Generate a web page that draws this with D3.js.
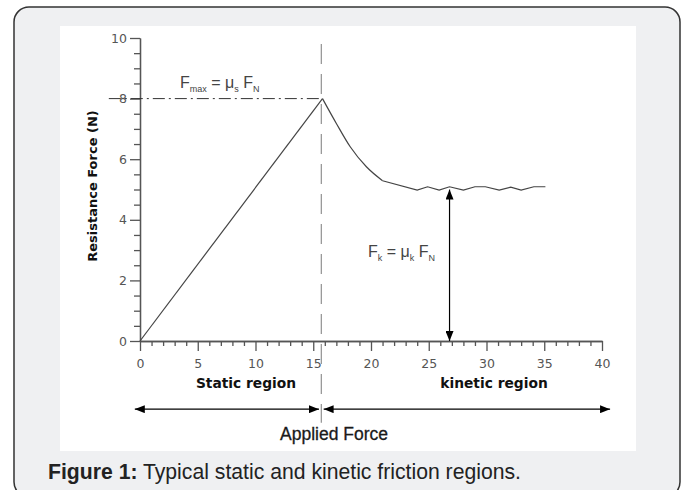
<!DOCTYPE html>
<meta charset="utf-8">
<style>
  body { margin: 0; background: #fff; }
  svg { display: block; }
</style>
<div id="chart"></div>
<script src="https://d3js.org/d3.v7.min.js"></script>
<script>
// data
var staticX = [0, 15.8];
var staticY = [0, 8];
var decayX = [15.8, 17.0, 18.2, 19.6, 21.0];
var decayY = [8, 7.18, 6.41, 5.75, 5.29];
var kineticX = [21.0, 24.0, 24.9, 25.9, 26.8, 28.0, 29.0, 29.9, 31.1, 32.1, 33.0, 34.1, 35.1];
var kineticY = [5.29, 4.98, 5.09, 4.98, 5.09, 4.98, 5.09, 5.09, 4.98, 5.08, 4.98, 5.09, 5.09];
var xMajor = [0, 5, 10, 15, 20, 25, 30, 35, 40];
var yMajor = [0, 2, 4, 6, 8, 10];
var fMax = 8, transitionX = 15.7, kineticArrowX = 26.8, kineticLevel = 5.0;

var W = 684, H = 490;
var svg = d3.select("#chart").append("svg").attr("width", W).attr("height", H);

// card + white panel
svg.append("rect").attr("x", 14).attr("y", 7).attr("width", 666).attr("height", 490)
  .attr("rx", 15).attr("fill", "#eff0f2").attr("stroke", "#333").attr("stroke-width", 1.5);
svg.append("rect").attr("x", 60).attr("y", 26).attr("width", 576).attr("height", 425).attr("fill", "#fff");

var defs = svg.append("defs");
defs.append("marker").attr("id", "head").attr("viewBox", "0 0 10 8")
  .attr("refX", 10).attr("refY", 4).attr("markerWidth", 10).attr("markerHeight", 8)
  .attr("markerUnits", "userSpaceOnUse").attr("orient", "auto-start-reverse")
  .append("path").attr("d", "M0,0L10,4L0,8Z").attr("fill", "#000");

var x = d3.scaleLinear().domain([0, 40]).range([140, 602]);
var y = d3.scaleLinear().domain([0, 10]).range([341, 38]);

var axisColor = "#555";
function styleAxis(g) {
  g.select(".domain").attr("stroke", axisColor).attr("stroke-width", 1.3);
  g.selectAll(".tick line").attr("stroke", axisColor).attr("stroke-width", 1.3);
  g.selectAll(".tick text").attr("fill", "#555").attr("font-family", "DejaVu Sans").attr("font-size", 12.5);
}

var xMinor = d3.range(0, 41).filter(function(d) { return d % 5 !== 0; });
var yMinor = d3.range(0, 10.01, 0.5).filter(function(d) { return d % 2 !== 0; });

svg.append("g").attr("transform", "translate(0," + y(0) + ")")
  .call(d3.axisBottom(x).tickValues(xMinor).tickSize(5).tickSizeOuter(0).tickFormat(""))
  .call(styleAxis);
svg.append("g").attr("transform", "translate(0," + y(0) + ")")
  .call(d3.axisBottom(x).tickValues(xMajor).tickSize(10).tickSizeOuter(0).tickPadding(8))
  .call(styleAxis);
svg.append("g").attr("transform", "translate(" + x(0) + ",0)")
  .call(d3.axisLeft(y).tickValues(yMinor).tickSize(6).tickSizeOuter(0).tickFormat(""))
  .call(styleAxis);
svg.append("g").attr("transform", "translate(" + x(0) + ",0)")
  .call(d3.axisLeft(y).tickValues(yMajor).tickSize(10).tickSizeOuter(0).tickPadding(3))
  .call(styleAxis);

// Fmax dash-dot line
svg.append("line").attr("x1", x(-2.7)).attr("x2", x(transitionX)).attr("y1", y(fMax)).attr("y2", y(fMax))
  .attr("stroke", "#333").attr("stroke-width", 1).attr("stroke-dasharray", "12,4,2,4");

// transition dashed line
svg.append("line").attr("x1", x(transitionX)).attr("x2", x(transitionX)).attr("y1", y(9.8)).attr("y2", y(-2.7))
  .attr("stroke", "#999").attr("stroke-width", 1.3).attr("stroke-dasharray", "20,10");

var line = d3.line().x(function(d) { return x(d[0]); }).y(function(d) { return y(d[1]); });
function pairs(xs, ys) { return xs.map(function(v, i) { return [v, ys[i]]; }); }
svg.append("path").datum(pairs(staticX, staticY))
  .attr("d", line).attr("fill", "none").attr("stroke", "#444").attr("stroke-width", 1.2);
svg.append("path").datum(pairs(decayX, decayY))
  .attr("d", line.curve(d3.curveMonotoneX)).attr("fill", "none").attr("stroke", "#444").attr("stroke-width", 1.2);
svg.append("path").datum(pairs(kineticX, kineticY))
  .attr("d", line.curve(d3.curveLinear)).attr("fill", "none").attr("stroke", "#444").attr("stroke-width", 1.2);

// kinetic arrow
svg.append("line").attr("x1", x(kineticArrowX)).attr("x2", x(kineticArrowX)).attr("y1", y(kineticLevel)).attr("y2", y(0))
  .attr("stroke", "#000").attr("stroke-width", 1.2)
  .attr("marker-start", "url(#head)").attr("marker-end", "url(#head)");

// region arrows
var arrowY = y(-2.25);
svg.append("line").attr("x1", x(-0.45)).attr("x2", x(15.5)).attr("y1", arrowY).attr("y2", arrowY)
  .attr("stroke", "#000").attr("stroke-width", 1.2)
  .attr("marker-start", "url(#head)").attr("marker-end", "url(#head)");
svg.append("line").attr("x1", x(15.9)).attr("x2", x(40.7)).attr("y1", arrowY).attr("y2", arrowY)
  .attr("stroke", "#000").attr("stroke-width", 1.2)
  .attr("marker-start", "url(#head)").attr("marker-end", "url(#head)");

// formula labels
function formula(px, py, parts) {
  var t = svg.append("text").attr("x", px).attr("y", py)
    .attr("font-family", "Liberation Sans Narrow, Liberation Sans, sans-serif").attr("fill", "#444");
  parts.forEach(function(p) {
    t.append("tspan").attr("font-size", p[1] ? 9 : 16)
      .attr("dy", p[2] || 0).text(p[0]);
  });
}
formula(180, 88, [["F"], ["max", true, 4], [" = \u03bc", false, -4], ["s", true, 4], [" F", false, -4], ["N", true, 4]]);
formula(368, 257, [["F"], ["k", true, 4], [" = \u03bc", false, -4], ["k", true, 4], [" F", false, -4], ["N", true, 4]]);

// axis titles
svg.append("text").attr("transform", "translate(97,186) rotate(-90)").attr("text-anchor", "middle")
  .attr("font-family", "DejaVu Sans").attr("font-weight", "bold").attr("font-size", 13).attr("fill", "#111")
  .text("Resistance Force (N)");
svg.append("text").attr("x", 246).attr("y", 388).attr("text-anchor", "middle")
  .attr("font-family", "DejaVu Sans").attr("font-weight", "bold").attr("font-size", 13.8).attr("fill", "#111")
  .text("Static region");
svg.append("text").attr("x", 494).attr("y", 388).attr("text-anchor", "middle")
  .attr("font-family", "DejaVu Sans").attr("font-weight", "bold").attr("font-size", 13.8).attr("fill", "#111")
  .text("kinetic region");
svg.append("text").attr("x", 334).attr("y", 440).attr("text-anchor", "middle")
  .attr("font-family", "Liberation Sans, Arial, sans-serif").attr("font-size", 17.5).attr("fill", "#1a1a1a")
  .attr("stroke", "#1a1a1a").attr("stroke-width", 0.3)
  .text("Applied Force");

// caption
var cap = svg.append("text").attr("x", 48).attr("y", 479)
  .attr("font-family", "Liberation Sans, Arial, sans-serif").attr("font-size", 21.2).attr("fill", "#222");
cap.append("tspan").attr("font-weight", "bold").text("Figure 1:");
cap.append("tspan").text(" Typical static and kinetic friction regions.");
</script>
